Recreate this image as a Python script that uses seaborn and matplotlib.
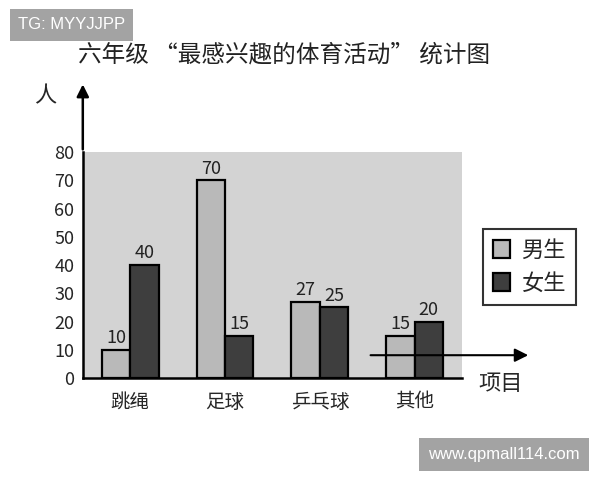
import pandas as pd
import matplotlib.pyplot as plt
import seaborn as sns

# data
categories = ["跳绳", "足球", "乒乓球", "其他"]
boys = [10, 70, 27, 15]
girls = [40, 15, 25, 20]
groups = ["男生", "女生"]
y_ticks = [0, 10, 20, 30, 40, 50, 60, 70, 80]

sns.set_style("white")
plt.rcParams["font.family"] = ["Noto Sans CJK SC", "DejaVu Sans"]

df = pd.DataFrame({
    "项目": categories * 2,
    "人数": boys + girls,
    "性别": [groups[0]] * len(boys) + [groups[1]] * len(girls),
})

fig = plt.figure(figsize=(6, 4.8), dpi=100)
ax = fig.add_axes([0.138, 0.2125, 0.632, 0.4705])
ax.set_facecolor("#d3d3d3")

sns.barplot(
    data=df, x="项目", y="人数", hue="性别",
    palette={"男生": "#b9b9b9", "女生": "#3e3e3e"},
    edgecolor="black", linewidth=1.6, width=0.6, saturation=1,
    ax=ax, legend=True,
)

for cont in ax.containers:
    ax.bar_label(cont, padding=2, fontsize=13, color="#222222")

ax.set_xlim(-0.5, 3.5)
ax.set_ylim(0, 80)
ax.set_yticks(y_ticks)
ax.set_xlabel("")
ax.set_ylabel("")
ax.tick_params(axis="y", direction="in", length=4, width=1, labelsize=13, pad=6)
ax.tick_params(axis="x", which="major", length=0, labelsize=14, pad=10)
ax.set_xticks([0.5, 1.5, 2.5, 3.5], minor=True)
ax.tick_params(axis="x", which="minor", direction="in", length=4, width=1.5)
for s in ["top", "right"]:
    ax.spines[s].set_visible(False)
ax.spines["left"].set_color("black")
ax.spines["left"].set_linewidth(1.8)
ax.spines["bottom"].set_color("black")
ax.spines["bottom"].set_linewidth(1.8)

leg = ax.legend(
    loc="upper left", bbox_to_anchor=(1.025, 0.71), fontsize=16,
    frameon=True, fancybox=False, edgecolor="black",
    handlelength=0.8, handleheight=0.9, handletextpad=0.5, labelspacing=0.45,
    borderpad=0.45,
)
leg.get_frame().set_linewidth(1.5)

# y axis arrow
fig.add_artist(plt.matplotlib.patches.FancyArrowPatch(
    (0.138, 0.683), (0.138, 0.83), transform=fig.transFigure,
    arrowstyle="-|>", mutation_scale=18, color="black", lw=1.8))
fig.text(0.075, 0.8, "人", fontsize=16, ha="center", va="center")

# stray x arrow
fig.add_artist(plt.matplotlib.patches.FancyArrowPatch(
    (0.613, 0.26), (0.885, 0.26), transform=fig.transFigure,
    arrowstyle="-|>", mutation_scale=20, color="black", lw=1.5))
fig.text(0.835, 0.2, "项目", fontsize=16, ha="center", va="center")

fig.text(0.473, 0.885, "六年级 \u201c最感兴趣的体育活动\u201d 统计图",
         fontsize=17, ha="center", va="center", color="#222222")

# watermarks
fig.text(0.03, 0.948, "TG: MYYJJPP", fontsize=12, color="white", va="center",
         family="Liberation Sans",
         bbox=dict(boxstyle="square,pad=0.5", fc="#a3a3a3", ec="none"))
fig.text(0.713, 0.053, "www.qpmall114.com", fontsize=12, color="white", va="center",
         family="Liberation Sans",
         bbox=dict(boxstyle="square,pad=0.55", fc="#a3a3a3", ec="none"))

fig.savefig("out.png", dpi=100)
